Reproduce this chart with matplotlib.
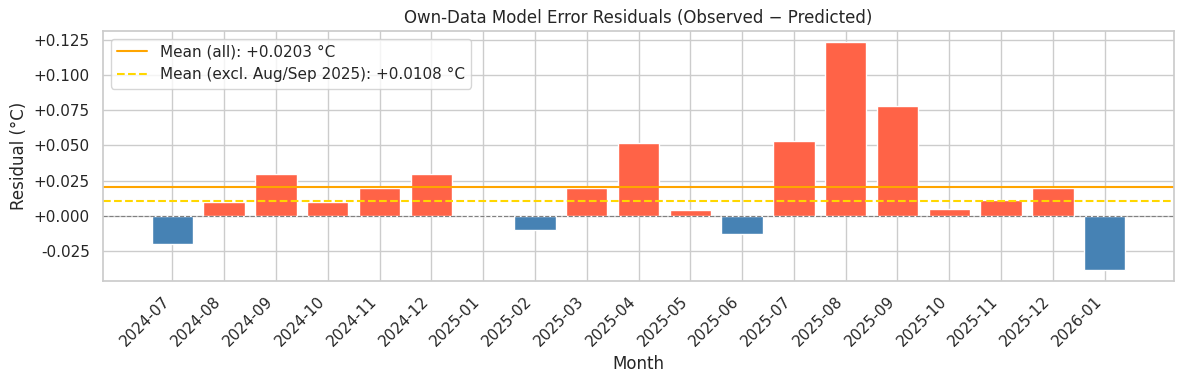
import matplotlib
matplotlib.use("Agg")
import matplotlib.pyplot as plt
import seaborn as sns
from matplotlib.ticker import FuncFormatter, MultipleLocator

months = ["2024-07", "2024-08", "2024-09", "2024-10", "2024-11", "2024-12",
          "2025-01", "2025-02", "2025-03", "2025-04", "2025-05", "2025-06",
          "2025-07", "2025-08", "2025-09", "2025-10", "2025-11", "2025-12",
          "2026-01"]
residuals = [-0.020, 0.010, 0.030, 0.010, 0.020, 0.030,
             0.000, -0.010, 0.020, 0.052, 0.004, -0.013,
             0.053, 0.123, 0.078, 0.005, 0.011, 0.020,
             -0.038]
mean_all = 0.0203
mean_excl = 0.0108

sns.set_theme(style="whitegrid")

fig, ax = plt.subplots(figsize=(11.81, 3.82), dpi=100)
fig.subplots_adjust(left=0.0872, right=0.9941, top=0.9188, bottom=0.2644)

colors = ["tomato" if r >= 0 else "steelblue" for r in residuals]
x = range(len(months))
ax.bar(x, residuals, color=colors, edgecolor="white", width=0.8)

ax.axhline(0, color="grey", linestyle="--", linewidth=0.8)
ax.axhline(mean_all, color="orange", linestyle="-", linewidth=1.5,
           label=f"Mean (all): {mean_all:+.4f} °C")
ax.axhline(mean_excl, color="gold", linestyle="--", linewidth=1.5,
           label=f"Mean (excl. Aug/Sep 2025): {mean_excl:+.4f} °C")

ax.set_xticks(list(x))
ax.set_xticklabels(months, rotation=45, ha="right")
ax.yaxis.set_major_locator(MultipleLocator(0.025))
ax.yaxis.set_major_formatter(FuncFormatter(lambda v, p: f"{v:+.3f}"))

ax.set_title("Own-Data Model Error Residuals (Observed \u2212 Predicted)", fontsize=12)
ax.set_xlabel("Month")
ax.set_ylabel("Residual (°C)")
ax.legend(loc="upper left")

plt.savefig("out.png")
